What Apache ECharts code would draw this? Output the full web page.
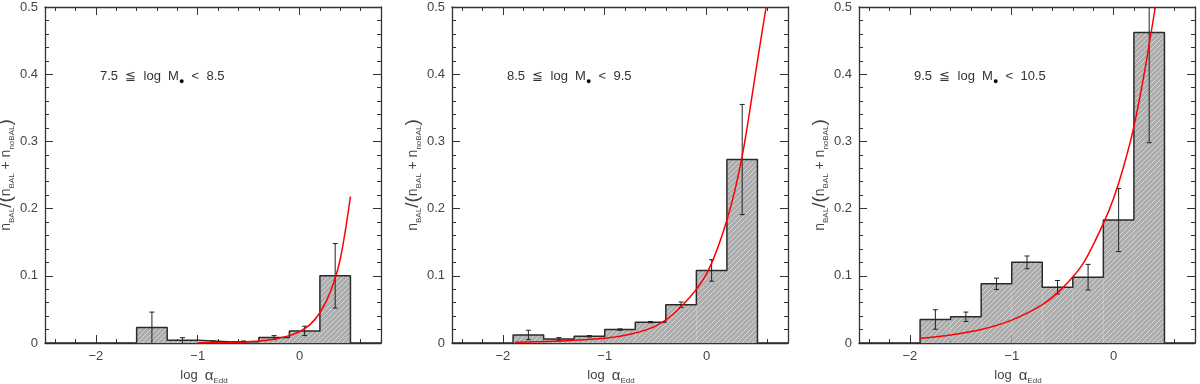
<!DOCTYPE html>
<html>
<head>
<meta charset="utf-8">
<script src="https://cdn.jsdelivr.net/npm/echarts@6/dist/echarts.min.js"></script>
<style>
html,body{margin:0;padding:0;background:#fff;}
#chart{width:1200px;height:384px;}
</style>
</head>
<body>
<div id="chart"></div>
<script>
// bin edges in log alpha_Edd, same for the three mass bins
var binEdges=[-1.9,-1.6,-1.3,-1.0,-0.7,-0.4,-0.1,0.2,0.5];
var xRange=[-2.5,0.8];
var yRange=[0,0.5];
var xMajorTicks=[-2,-1,0];
var xMinorTicks=[-2.4,-2.2,-1.8,-1.6,-1.4,-1.2,-0.8,-0.6,-0.4,-0.2,0.2,0.4,0.6];

var massLow=['7.5','8.5','9.5'];
var massHigh=['8.5','9.5','10.5'];

// BAL fraction per bin and its error
var frac1=[0,0.023,0.004,0.002,0.002,0.008,0.018,0.100];
var err1=[0,0.023,0.004,0.001,0.001,0.003,0.007,0.048];
var frac2=[0.012,0.006,0.010,0.020,0.031,0.057,0.108,0.273];
var err2=[0.007,0.002,0.001,0.001,0.001,0.004,0.016,0.082];
var frac3=[0.035,0.039,0.088,0.120,0.083,0.098,0.183,0.462];
var err3=[0.0145,0.007,0.0085,0.0095,0.010,0.019,0.047,0.164];

// red model curves
var fitX1=[-1.0,-0.7,-0.5,-0.3,-0.1,0,0.1,0.2,0.3,0.4,0.5];
var fitY1=[0.0005,0.001,0.002,0.0045,0.011,0.017,0.027,0.045,0.075,0.125,0.218];
var fitX2=[-1.88,-1.5,-1.0,-0.75,-0.5,-0.25,0,0.2,0.35,0.5,0.585];
var fitY2=[0.001,0.0025,0.007,0.013,0.025,0.054,0.103,0.183,0.278,0.42,0.5];
var fitX3=[-1.9,-1.6,-1.3,-1.0,-0.7,-0.5,-0.3,-0.1,0,0.1,0.2,0.3,0.41];
var fitY3=[0.007,0.012,0.020,0.034,0.057,0.082,0.118,0.178,0.215,0.263,0.322,0.40,0.5];

var panels=[
	{frac:frac1,err:err1,fx:fitX1,fy:fitY1},
	{frac:frac2,err:err2,fx:fitX2,fy:fitY2},
	{frac:frac3,err:err3,fx:fitX3,fy:fitY3}
];
var gridLeft=[45,452,859];

var FONT='Liberation Sans';
var INK='#333';

//灰色斜线填充
var hatchCanvas=document.createElement('canvas');
hatchCanvas.width=5;hatchCanvas.height=5;
(function(){
	var c=hatchCanvas.getContext('2d');
	c.fillStyle='#adadad';c.fillRect(0,0,5,5);
	c.strokeStyle='#d4d4d4';c.lineWidth=1;
	c.beginPath();
	c.moveTo(0,5);c.lineTo(5,0);
	c.moveTo(-1,1);c.lineTo(1,-1);
	c.moveTo(4,6);c.lineTo(6,4);
	c.stroke();
})();
var hatch={image:hatchCanvas,repeat:'repeat'};

function renderBar(params,api){
	var p0=api.coord([api.value(0),api.value(2)]);
	var p1=api.coord([api.value(1),0]);
	return {type:'rect',shape:{x:p0[0],y:p0[1],width:p1[0]-p0[0],height:p1[1]-p0[1]},style:{fill:hatch}};
}

function renderErr(params,api){
	var x=api.value(0),y=api.value(1),e=api.value(2);
	var top=api.coord([x,y+e]);
	var bot=api.coord([x,Math.max(y-e,0)]);
	var cs=params.coordSys;
	var yTop=Math.max(top[1],cs.y);
	var st={stroke:'#222',lineWidth:1};
	var kids=[{type:'line',shape:{x1:top[0],y1:yTop,x2:bot[0],y2:bot[1]},style:st}];
	if(top[1]>=cs.y) kids.push({type:'line',shape:{x1:top[0]-2.5,y1:top[1],x2:top[0]+2.5,y2:top[1]},style:st});
	if(y-e>0) kids.push({type:'line',shape:{x1:bot[0]-2.5,y1:bot[1],x2:bot[0]+2.5,y2:bot[1]},style:st});
	return {type:'group',children:kids};
}

var option={
	animation:false,
	backgroundColor:'#fff',
	grid:[],xAxis:[],yAxis:[],series:[],title:[]
};

panels.forEach(function(p,i){
	option.grid.push({left:gridLeft[i],top:7,width:336,height:336,containLabel:false,outerBoundsMode:'none'});

	var xBase={type:'value',gridIndex:i,min:xRange[0],max:xRange[1],splitLine:{show:false}};
	var lineSt={show:true,onZero:false,lineStyle:{color:INK,width:1.3}};
	var noLine={show:false,onZero:false};
	// bottom, major ticks + labels
	option.xAxis.push(Object.assign({},xBase,{
		position:'bottom',axisLine:lineSt,
		axisTick:{show:true,inside:true,length:8,customValues:xMajorTicks,lineStyle:{color:INK}},
		axisLabel:{customValues:xMajorTicks,color:'#444',fontFamily:FONT,fontSize:13,margin:7,
			formatter:function(v){return String(v).replace('-','\u2212');}},
		name:'{n|log  }{a|\u03b1}{s|Edd}',nameLocation:'middle',nameGap:21,
		nameTextStyle:{padding:[0,18,0,0],rich:{
			n:{fontFamily:FONT,fontSize:13,color:'#444',lineHeight:18},
			a:{fontFamily:FONT,fontSize:15,color:'#444',lineHeight:18},
			s:{fontFamily:FONT,fontSize:8,color:'#444',lineHeight:18,verticalAlign:'bottom'}}}
	}));
	option.xAxis.push(Object.assign({},xBase,{
		position:'bottom',axisLine:noLine,
		axisTick:{show:true,inside:true,length:4,customValues:xMinorTicks,lineStyle:{color:INK}},
		axisLabel:{show:false}
	}));
	option.xAxis.push(Object.assign({},xBase,{
		position:'top',axisLine:lineSt,
		axisTick:{show:true,inside:true,length:8,customValues:xMajorTicks,lineStyle:{color:INK}},
		axisLabel:{show:false}
	}));
	option.xAxis.push(Object.assign({},xBase,{
		position:'top',axisLine:noLine,
		axisTick:{show:true,inside:true,length:4,customValues:xMinorTicks,lineStyle:{color:INK}},
		axisLabel:{show:false}
	}));

	var yBase={type:'value',gridIndex:i,min:yRange[0],max:yRange[1],interval:0.1,splitLine:{show:false},
		axisLine:lineSt,
		axisTick:{show:true,inside:true,length:8,lineStyle:{color:INK}},
		minorTick:{show:true,splitNumber:5,length:4,lineStyle:{color:INK}}};
	option.yAxis.push(Object.assign({},yBase,{
		position:'left',
		axisLabel:{color:'#444',fontFamily:FONT,fontSize:13,margin:7},
		name:'{n|n}{s|BAL}{p|/(}{n|n}{s|BAL}{n| + n}{s|noBAL}{p|)}',
		nameLocation:'middle',nameGap:21,nameRotate:90,
		nameTextStyle:{rich:{
			n:{fontFamily:FONT,fontSize:14,color:'#444',lineHeight:20},
			p:{fontFamily:FONT,fontSize:19,color:'#444',lineHeight:20},
			s:{fontFamily:FONT,fontSize:8,color:'#444',lineHeight:20,verticalAlign:'bottom'}}}
	}));
	option.yAxis.push(Object.assign({},yBase,{position:'right',axisLabel:{show:false}}));

	var xa=i*4,ya=i*2;
	var bars=[],steps=[[xRange[0],0]],errs=[];
	for(var j=0;j<p.frac.length;j++){
		bars.push([binEdges[j],binEdges[j+1],p.frac[j]]);
		steps.push([binEdges[j],p.frac[j]]);
		if(p.err[j]>0) errs.push([(binEdges[j]+binEdges[j+1])/2,p.frac[j],p.err[j]]);
	}
	steps.push([binEdges[binEdges.length-1],0]);
	steps.push([xRange[1],0]);

	option.series.push({type:'custom',xAxisIndex:xa,yAxisIndex:ya,renderItem:renderBar,data:bars,z:1});
	option.series.push({type:'line',xAxisIndex:xa,yAxisIndex:ya,step:'end',data:steps,symbol:'none',
		lineStyle:{color:'#2a2a2a',width:1.5},z:2});
	option.series.push({type:'custom',xAxisIndex:xa,yAxisIndex:ya,renderItem:renderErr,data:errs,z:3});
	var fit=p.fx.map(function(x,k){return [x,p.fy[k]];});
	option.series.push({type:'line',xAxisIndex:xa,yAxisIndex:ya,data:fit,smooth:0.3,
		symbol:'none',lineStyle:{color:'#ff0000',width:1.5},z:4});

	option.title.push({
		text:'{t|'+massLow[i]+'  \u2266  log  M}{d|\u25cf}{t|  <  '+massHigh[i]+'}',
		left:gridLeft[i]+50,top:62,
		textStyle:{rich:{
			t:{fontFamily:FONT,fontSize:13,fontWeight:'normal',color:'#333',lineHeight:18},
			d:{fontFamily:FONT,fontSize:9,fontWeight:'normal',color:'#000',lineHeight:19,verticalAlign:'bottom'}}}
	});
});

var chart=echarts.init(document.getElementById('chart'));
chart.setOption(option);
</script>
</body>
</html>
